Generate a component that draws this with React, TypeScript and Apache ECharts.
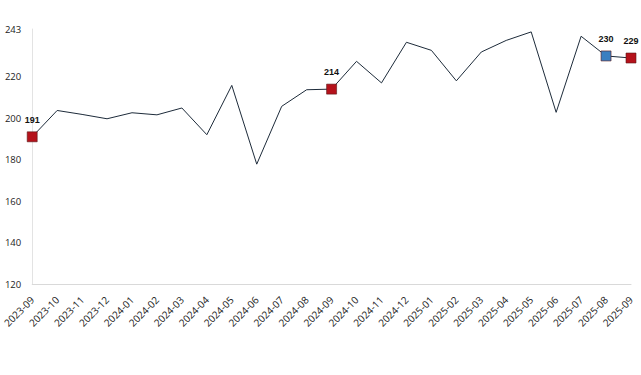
import React, { useEffect, useRef } from "react";
import * as echarts from "echarts";

const categories = [
  "2023-09", "2023-10", "2023-11", "2023-12", "2024-01", "2024-02", "2024-03",
  "2024-04", "2024-05", "2024-06", "2024-07", "2024-08", "2024-09", "2024-10",
  "2024-11", "2024-12", "2025-01", "2025-02", "2025-03", "2025-04", "2025-05",
  "2025-06", "2025-07", "2025-08", "2025-09",
];
const values = [
  191, 203.7, 201.8, 199.7, 202.6, 201.6, 204.9, 192, 215.8, 177.8, 205.7, 213.7,
  214, 227.4, 217, 236.6, 232.7, 218, 231.9, 237.5, 241.6, 202.8, 239.5, 230, 229,
];
const highlightIndex = [0, 12, 23, 24];
const highlightLabels = ["191", "214", "230", "229"];
const highlightColors = ["#b5121b", "#b5121b", "#3a7fc1", "#b5121b"];
const yTicks = [120, 140, 160, 180, 200, 220, 243];

export default function App() {
  const ref = useRef<HTMLDivElement>(null);
  useEffect(() => {
    document.body.style.margin = "0";
    if (!ref.current) return;
    const chart = echarts.init(ref.current, undefined, { renderer: "svg" });
    const data = values.map((v, i) => {
      const h = highlightIndex.indexOf(i);
      if (h < 0) return { value: v, symbol: "none" };
      return {
        value: v,
        symbol: "rect",
        symbolSize: 10,
        itemStyle: { color: highlightColors[h], borderColor: "#5a1a1a", borderWidth: 0.6 },
        label: {
          show: true,
          position: "top",
          distance: 7,
          formatter: highlightLabels[h],
          fontSize: 9,
          fontWeight: "bold",
          color: "#111",
          fontFamily: "Liberation Sans",
        },
      };
    });
    chart.setOption({
      animation: false,
      backgroundColor: "#fff",
      grid: { left: 30, right: 10, top: 29, bottom: 91, containLabel: false },
      xAxis: {
        type: "category",
        data: categories,
        boundaryGap: false,
        axisLine: { lineStyle: { color: "#d9d9d9", width: 1 } },
        axisTick: { show: false },
        axisLabel: {
          rotate: 45,
          interval: 0,
          fontSize: 10,
          color: "#222",
          fontFamily: "Open Sans",
          margin: 14,
        },
        splitLine: { show: false },
      },
      yAxis: {
        type: "value",
        min: 120,
        max: 243,
        interval: 20,
        axisLine: { show: true, lineStyle: { color: "#e3e3e3", width: 1 } },
        axisTick: { show: false },
        splitLine: { show: false },
        axisLabel: {
          fontSize: 9.5,
          color: "#222",
          fontFamily: "Open Sans",
          margin: 11,
          showMaxLabel: true,
          customValues: yTicks,
        },
      },
      series: [
        {
          type: "line",
          data,
          symbol: "none",
          lineStyle: { color: "#1d2b3a", width: 1 },
          itemStyle: { color: "#1d2b3a" },
          z: 3,
        },
      ],
    });
    return () => chart.dispose();
  }, []);
  return <div ref={ref} style={{ width: 641, height: 375 }} />;
}
